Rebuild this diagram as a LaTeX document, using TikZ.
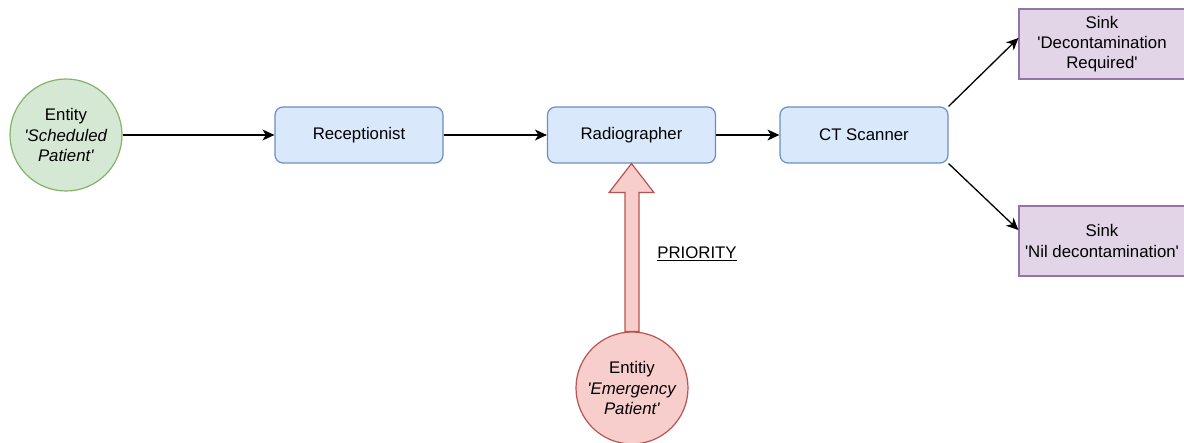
\documentclass[tikz,border=0pt]{standalone}
\usepackage{fontspec}
\setmainfont{Liberation Sans}
\usetikzlibrary{arrows.meta,calc}
\definecolor{gfill}{HTML}{D5E8D4}\definecolor{gline}{HTML}{82B366}
\definecolor{bfill}{HTML}{DAE8FC}\definecolor{bline}{HTML}{6C8EBF}
\definecolor{pfill}{HTML}{E1D5E7}\definecolor{pline}{HTML}{9673A6}
\definecolor{rfill}{HTML}{F8CECC}\definecolor{rline}{HTML}{B85450}
\newcommand{\sq}{\textquotesingle}
\begin{document}
\begin{tikzpicture}[x=1pt,y=-1pt,
  every node/.style={font=\fontsize{16.8}{20.2}\selectfont, align=center, inner sep=0pt},
  entity/.style={circle, minimum size=112pt, line width=1.2pt},
  procbox/.style={rectangle, rounded corners=8pt, minimum width=168pt, minimum height=56pt, draw=bline, fill=bfill, line width=1.2pt},
  sinkbox/.style={rectangle, minimum width=166pt, minimum height=70pt, draw=pline, fill=pfill, line width=1.2pt},
  edge/.style={draw=black, line width=1.3pt, -{Stealth[length=12pt,width=11pt,inset=3.5pt]}},
  bigarrow/.style={draw=rline, fill=rfill, line width=1.2pt, line join=miter}
]
\useasboundingbox (0,0) rectangle (1184,443);
\node[entity, draw=gline, fill=gfill] (ent) at (66,135) {Entity\\\textit{\sq Scheduled}\\\textit{Patient\sq}};
\node[procbox] (rec) at (359,135) {Receptionist};
\node[procbox] (rad) at (631.5,135) {Radiographer};
\node[procbox] (ct) at (864,135) {CT Scanner};
\node[sinkbox] (s1) at (1102,44) {Sink\\\sq Decontamination\\Required\sq};
\node[sinkbox] (s2) at (1102,241) {Sink\\\sq Nil decontamination\sq};
\node[entity, draw=rline, fill=rfill] (em) at (632,388) {Entitiy\\\textit{\sq Emergency}\\\textit{Patient\sq}};
\draw[edge] (ent) -- (rec);
\draw[edge] (rec) -- (rad);
\draw[edge] (rad) -- (ct);
\draw[edge] (ct.north east) -- ($(s1.west)+(0,-6)$);
\draw[edge] (ct.south east) -- ($(s2.west)+(0,-11)$);
\draw[bigarrow] ($(em.north)+(-7,0)$) -- ($(rad.south)+(-6.5,29)$) -- ($(rad.south)+(-22.5,29)$) -- (rad.south) -- ($(rad.south)+(22.5,29)$) -- ($(rad.south)+(7.5,29)$) -- ($(em.north)+(7,0)$) -- cycle;
\node (prio) at (697,254) {\underline{PRIORITY}};
\end{tikzpicture}
\end{document}
